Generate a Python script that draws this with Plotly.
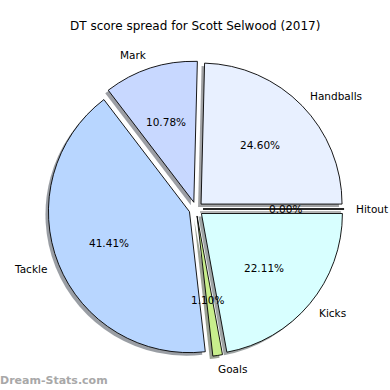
import math
import plotly.graph_objects as go

# ---- data ----
labels = ["Hitout", "Handballs", "Mark", "Tackle", "Goals", "Kicks"]
values = [0.00, 24.60, 10.78, 41.41, 1.10, 22.11]
colors = ["#d8e4ff", "#e8f0ff", "#c8d8ff", "#b8d6ff", "#c8ee8c", "#d8ffff"]
title_text = "DT score spread for Scott Selwood (2017)"
watermark = "Dream-Stats.com"

# ---- layout geometry (pixels) ----
W = H = 390
CX, CY = 196, 209      # pie centre
R = 141                # pie radius
PULL = 0.05
SH = 3                 # shadow offset px

half = R * (1 + PULL)


def dom(cx, cy):
    return dict(x=[(cx - half) / W, (cx + half) / W],
                y=[1 - (cy + half) / H, 1 - (cy - half) / H])


def shade(hexc):
    h = hexc.lstrip("#")
    r, g, b = (int(h[i:i + 2], 16) for i in (0, 2, 4))
    return f"rgb({int(r*0.3)},{int(g*0.3)},{int(b*0.3)})"


fig = go.Figure()
# shadow
fig.add_trace(go.Pie(
    labels=labels, values=values, sort=False, direction="counterclockwise",
    rotation=90, pull=[PULL] * len(values), textinfo="none", hoverinfo="skip",
    marker=dict(colors=[shade(c) for c in colors], line=dict(width=0)),
    opacity=0.5, domain=dom(CX - SH, CY + SH), showlegend=False))
# main pie
fig.add_trace(go.Pie(
    labels=labels, values=values, sort=False, direction="counterclockwise",
    rotation=90, pull=[PULL] * len(values), textinfo="none",
    marker=dict(colors=colors, line=dict(color="black", width=0.9)),
    domain=dom(CX, CY), showlegend=False))

total = sum(values)
annotations = []
shapes = []
start = 0.0
font = dict(family="DejaVu Sans", size=10.5, color="black")
for lab, v in zip(labels, values):
    ang = start + 360 * v / total / 2
    start += 360 * v / total
    a = math.radians(ang)
    ca, sa = math.cos(a), math.sin(a)
    # percent text
    d = (0.6 + PULL) * R
    annotations.append(dict(x=(CX + d * ca) / W, y=1 - (CY - d * sa) / H,
                            xref="paper", yref="paper", text=f"{v:.2f}%",
                            showarrow=False, font=font, xshift=-2,
                            xanchor="center", yanchor="middle"))
    # label
    d = (1.1 + PULL) * R
    left = ca >= 0
    annotations.append(dict(x=(CX + d * ca) / W, y=1 - (CY - d * sa) / H,
                            xref="paper", yref="paper", text=lab,
                            showarrow=False, font=font,
                            xshift=-4 if left else 3,
                            xanchor="left" if left else "right",
                            yanchor="middle"))
    if v == 0:
        # degenerate wedge drawn as a line (with its shadow)
        x0 = CX + PULL * R * ca
        y0 = CY - PULL * R * sa
        x1 = CX + (1 + PULL) * R * ca
        y1 = CY - (1 + PULL) * R * sa
        shapes.append(dict(type="line", xref="paper", yref="paper",
                           x0=(x0 - SH) / W, x1=(x1 - SH) / W,
                           y0=1 - (y0 + SH) / H, y1=1 - (y1 + SH) / H,
                           line=dict(color="rgba(60,60,60,0.5)", width=1.5),
                           layer="below"))
        shapes.append(dict(type="line", xref="paper", yref="paper",
                           x0=x0 / W, x1=x1 / W, y0=1 - y0 / H, y1=1 - y1 / H,
                           line=dict(color="black", width=1)))

annotations.append(dict(x=0.5, y=1 - 26 / H, xref="paper", yref="paper",
                        text=title_text, showarrow=False,
                        font=dict(family="DejaVu Sans", size=12, color="black"),
                        xanchor="center", yanchor="middle"))
annotations.append(dict(x=0, y=1 - 380 / H, xref="paper", yref="paper",
                        text=f"<b>{watermark}</b>", showarrow=False,
                        font=dict(family="DejaVu Sans", size=11, color="#a8a8a8"),
                        xanchor="left", yanchor="middle", xshift=-2))

fig.update_layout(width=W, height=H, margin=dict(l=0, r=0, t=0, b=0),
                  paper_bgcolor="white", plot_bgcolor="white",
                  annotations=annotations, shapes=shapes)

fig.write_html("out.html")
